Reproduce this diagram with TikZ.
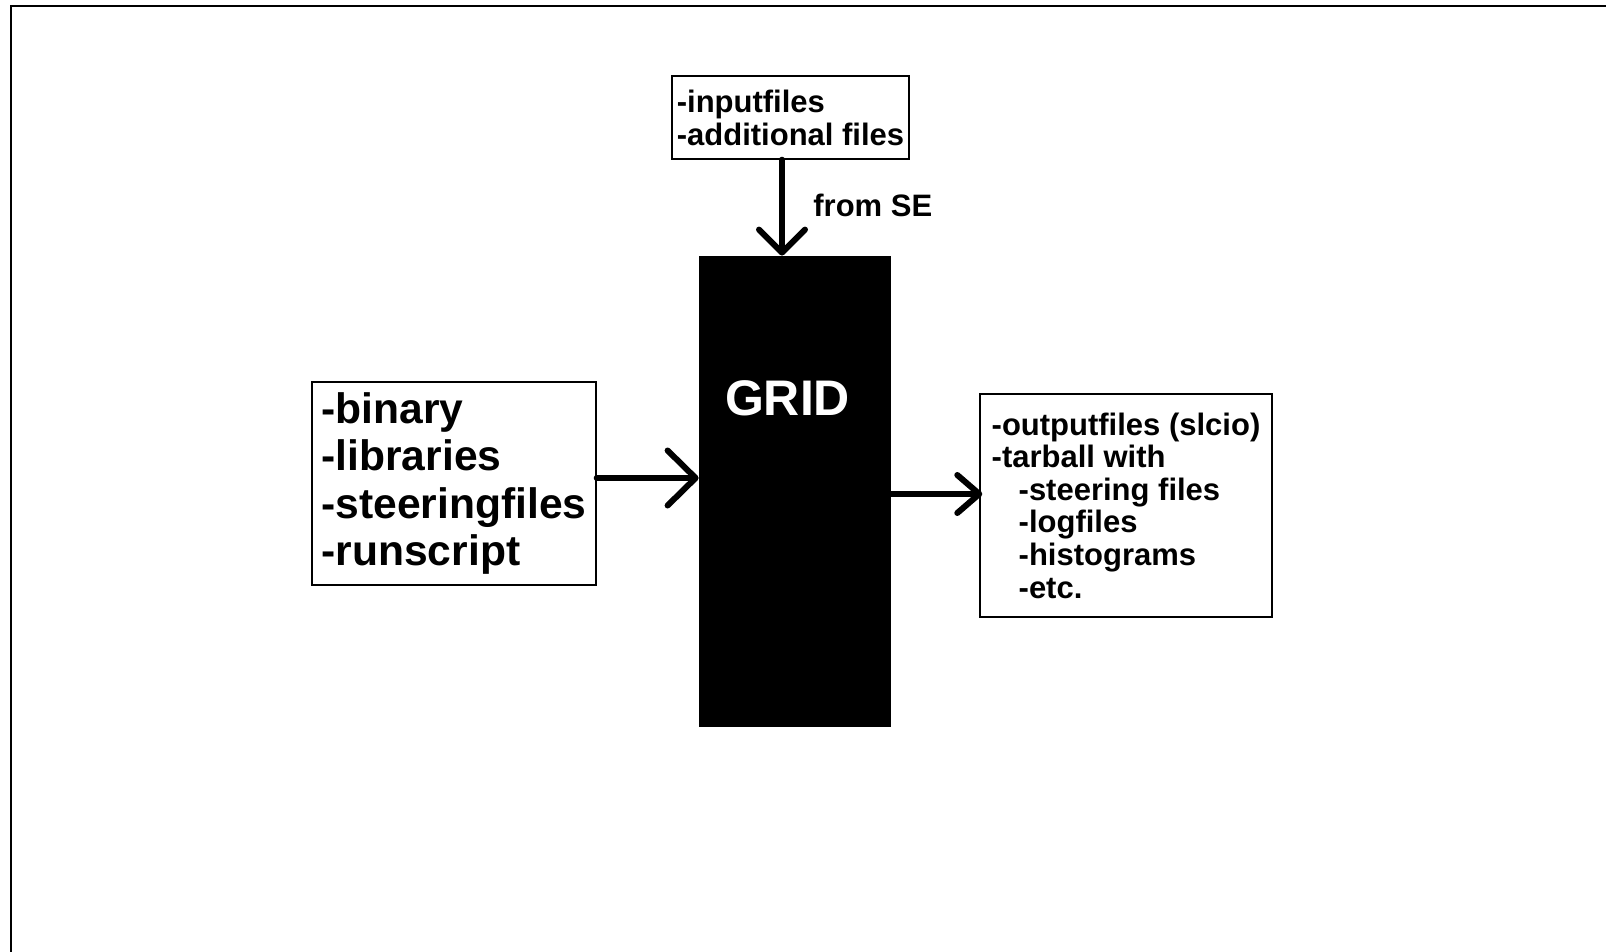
\documentclass[tikz,border=0pt]{standalone}
\usepackage{fontspec}
\setmainfont{Liberation Sans}
\usetikzlibrary{arrows.meta}
\begin{document}
\begin{tikzpicture}[x=0.5pt,y=-0.5pt,
  every node/.style={font=\bfseries},
  box/.style={draw, line width=0.7pt, align=left, inner sep=0pt},
  flow/.style={line width=3pt, line cap=round},
  small/.style={font=\bfseries\fontsize{15.5}{16.5}\selectfont},
]
\useasboundingbox (0,0) rectangle (1606,952);
% page frame
\draw[line width=1pt] (11,952) -- (11,6) -- (1606,6);

% the grid block
\node[fill=black, minimum width=96pt, minimum height=235.5pt, inner sep=0pt] (grid) at (795,491.5) {};
\node[text=white, font=\bfseries\fontsize{25}{30}\selectfont, anchor=base, inner sep=0pt] (gridlabel) at (787.5,415) {GRID};

% inputs from the storage element
\node[box, small, minimum width=118.5pt, minimum height=41.5pt] (inputs) at (790.5,117.5)
  {-inputfiles\\-additional files};
\node[small, anchor=base west, inner sep=0pt] (se) at (813,217) {from SE};

% job ingredients
\node[box, minimum width=142pt, minimum height=101.5pt, font=\bfseries\fontsize{21.3}{23.8}\selectfont] (job) at (454,483.5)
  {-binary\\-libraries\\-steeringfiles\\-runscript};

% results
\node[box, minimum width=146pt, minimum height=111.5pt, font=\bfseries\fontsize{15.5}{16.3}\selectfont] (outputs) at (1126,505.5)
  {-outputfiles (slcio)\\-tarball with\\\hspace*{13.5pt}-steering files\\\hspace*{13.5pt}-logfiles\\\hspace*{13.5pt}-histograms\\\hspace*{13.5pt}-etc.};

% connectors
\coordinate (dx) at (782,0);
\coordinate (ly) at (0,478);
\coordinate (ry) at (0,494);
\draw[flow, -{Straight Barb[length=11.5pt,width=23pt,round]}] (inputs.south -| dx) -- (grid.north -| dx);
\draw[flow, -{Straight Barb[length=14pt,width=27.5pt,round]}] (job.east |- ly) -- (grid.west |- ly);
\draw[flow, shorten >=-1.5pt, -{Straight Barb[length=11pt,width=19pt,round]}] (grid.east |- ry) -- (outputs.west |- ry);
\end{tikzpicture}
\end{document}
